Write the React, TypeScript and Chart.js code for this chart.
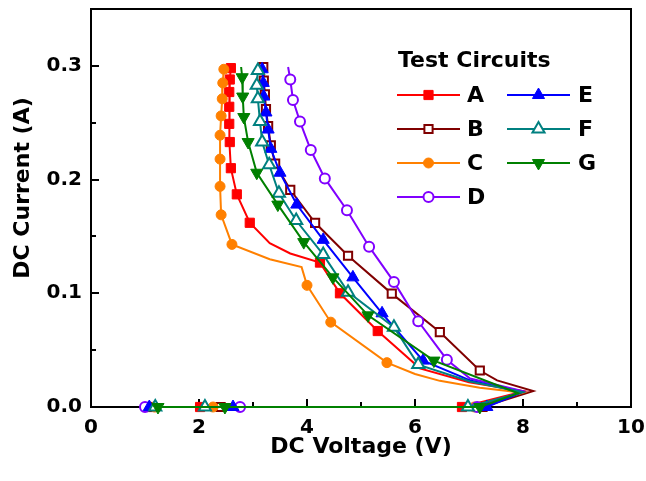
import React, { useEffect, useRef } from 'react';
import { Chart, registerables } from 'chart.js';

Chart.register(...registerables);

// ---------- data ----------
const seriesNames = ['A', 'B', 'C', 'D', 'E', 'F', 'G'];
const seriesColors = ['#ff0000', '#800000', '#ff8000', '#8000ff', '#0000ff', '#008080', '#008000'];
const seriesMarkers = ['rect', 'rect', 'circle', 'circle', 'triangle', 'triangle', 'triangle'];
const seriesFilled = [true, false, true, false, true, false, true];
const seriesRotation = [0, 0, 0, 0, 0, 0, 180];

// A
const aV = [2.59, 2.57, 2.56, 2.56, 2.56, 2.57, 2.59, 2.70, 2.94, 3.31, 3.69, 4.24, 4.61, 5.31, 6.09, 7.00, 8.02, 6.87, 2.02, 1.12];
const aI = [0.298, 0.288, 0.277, 0.264, 0.249, 0.233, 0.210, 0.187, 0.162, 0.144, 0.135, 0.127, 0.100, 0.0668, 0.034, 0.0217, 0.0139, 0, 0, 0];
const aM = [1, 1, 1, 1, 1, 1, 1, 1, 1, 0, 0, 1, 1, 1, 0, 0, 0, 1, 1, 1];
// B
const bV = [3.19, 3.20, 3.22, 3.24, 3.28, 3.33, 3.41, 3.69, 4.15, 4.76, 5.57, 6.46, 7.20, 7.52, 8.19, 7.25, 2.40, 1.10];
const bI = [0.299, 0.287, 0.275, 0.262, 0.247, 0.230, 0.214, 0.191, 0.162, 0.133, 0.0997, 0.0659, 0.0321, 0.0234, 0.0141, 0, 0, 0];
const bM = [1, 1, 1, 1, 1, 1, 1, 1, 1, 1, 1, 1, 1, 0, 0, 1, 1, 1];
// C
const cV = [2.46, 2.44, 2.43, 2.41, 2.39, 2.39, 2.39, 2.41, 2.61, 3.31, 3.90, 4.00, 4.44, 5.48, 6.00, 6.46, 7.20, 8.00, 7.10, 2.26, 1.18];
const cI = [0.297, 0.285, 0.271, 0.256, 0.239, 0.218, 0.194, 0.169, 0.143, 0.130, 0.123, 0.107, 0.0746, 0.039, 0.029, 0.023, 0.017, 0.0125, 0, 0, 0];
const cM = [1, 1, 1, 1, 1, 1, 1, 1, 1, 0, 0, 1, 1, 1, 0, 0, 0, 0, 1, 1, 1];
// D
const dV = [3.65, 3.69, 3.74, 3.87, 4.07, 4.33, 4.74, 5.15, 5.61, 6.06, 6.59, 7.02, 8.00, 7.15, 2.76, 1.00];
const dI = [0.299, 0.288, 0.270, 0.251, 0.226, 0.201, 0.173, 0.141, 0.110, 0.0754, 0.0416, 0.0251, 0.0139, 0, 0, 0];
const dM = [0, 1, 1, 1, 1, 1, 1, 1, 1, 1, 1, 0, 0, 1, 1, 1];
// E
const eV = [3.17, 3.19, 3.20, 3.24, 3.28, 3.33, 3.50, 3.81, 4.30, 4.85, 5.39, 6.15, 7.02, 7.98, 7.33, 2.63, 1.08];
const eI = [0.297, 0.285, 0.273, 0.259, 0.244, 0.227, 0.206, 0.178, 0.147, 0.114, 0.0824, 0.0408, 0.0234, 0.013, 0, 0, 0];
const eM = [1, 1, 1, 1, 1, 1, 1, 1, 1, 1, 1, 1, 0, 0, 1, 1, 1];
// F
const fV = [3.09, 3.07, 3.09, 3.13, 3.17, 3.30, 3.48, 3.80, 4.30, 4.76, 5.61, 6.06, 7.02, 8.00, 6.98, 2.11, 1.19];
const fI = [0.296, 0.283, 0.271, 0.251, 0.233, 0.213, 0.188, 0.164, 0.134, 0.101, 0.0702, 0.0373, 0.0225, 0.013, 0, 0, 0];
const fM = [1, 1, 1, 1, 1, 1, 1, 1, 1, 1, 1, 1, 0, 0, 1, 1, 1];
// G
const gV = [2.78, 2.80, 2.81, 2.83, 2.91, 3.07, 3.46, 3.94, 4.48, 5.13, 6.35, 7.91, 7.20, 2.48, 1.24];
const gI = [0.299, 0.290, 0.273, 0.255, 0.233, 0.206, 0.178, 0.145, 0.114, 0.0806, 0.0408, 0.0121, 0, 0, 0];
const gM = [0, 1, 1, 1, 1, 1, 1, 1, 1, 1, 1, 0, 1, 1, 1];

const allV = [aV, bV, cV, dV, eV, fV, gV];
const allI = [aI, bI, cI, dI, eI, fI, gI];
const allM = [aM, bM, cM, dM, eM, fM, gM];

const xTicks = [0, 2, 4, 6, 8, 10];
const xMinor = [1, 3, 5, 7, 9];
const yTicks = [0, 0.1, 0.2, 0.3];
const yMinor = [0.05, 0.15, 0.25];

const xTitle = 'DC Voltage (V)';
const yTitle = 'DC Current (A)';
const legendTitle = 'Test Circuits';

const FONT = '"DejaVu Sans", "Liberation Sans", Arial, sans-serif';

function markerRadius(i: number) {
  const m = seriesMarkers[i];
  if (m === 'rect') return seriesFilled[i] ? 6.5 : 5.8;
  if (m === 'circle') return 5;
  return 7;
}

function drawMarker(ctx: CanvasRenderingContext2D, i: number, x: number, y: number) {
  const r = markerRadius(i);
  const col = seriesColors[i];
  ctx.save();
  ctx.beginPath();
  const m = seriesMarkers[i];
  if (m === 'rect') {
    const s = Math.SQRT1_2 * r;
    ctx.rect(x - s, y - s, 2 * s, 2 * s);
  } else if (m === 'circle') {
    ctx.arc(x, y, r, 0, Math.PI * 2);
  } else {
    let rad = (seriesRotation[i] * Math.PI) / 180;
    ctx.moveTo(x + Math.sin(rad) * r, y - Math.cos(rad) * r);
    rad += (2 * Math.PI) / 3;
    ctx.lineTo(x + Math.sin(rad) * r, y - Math.cos(rad) * r);
    rad += (2 * Math.PI) / 3;
    ctx.lineTo(x + Math.sin(rad) * r, y - Math.cos(rad) * r);
    ctx.closePath();
  }
  ctx.fillStyle = seriesFilled[i] ? col : '#ffffff';
  ctx.fill();
  ctx.lineWidth = seriesFilled[i] ? 1 : 2;
  ctx.strokeStyle = col;
  ctx.stroke();
  ctx.restore();
}

const decorPlugin = {
  id: 'decor',
  beforeDatasetsDraw(chart: any) {
    const { ctx, chartArea: a, scales } = chart;
    ctx.save();
    ctx.strokeStyle = '#000';
    ctx.lineWidth = 2;
    ctx.strokeRect(a.left, a.top, a.right - a.left, a.bottom - a.top);
    ctx.beginPath();
    for (const v of xTicks) {
      if (v <= 0 || v >= 10) continue;
      const px = Math.round(scales.x.getPixelForValue(v));
      ctx.moveTo(px, a.bottom);
      ctx.lineTo(px, a.bottom - 8);
    }
    for (const v of xMinor) {
      const px = Math.round(scales.x.getPixelForValue(v));
      ctx.moveTo(px, a.bottom);
      ctx.lineTo(px, a.bottom - 5);
    }
    for (const v of yTicks) {
      if (v <= 0) continue;
      const py = Math.round(scales.y.getPixelForValue(v));
      ctx.moveTo(a.left, py);
      ctx.lineTo(a.left + 8, py);
    }
    for (const v of yMinor) {
      const py = Math.round(scales.y.getPixelForValue(v));
      ctx.moveTo(a.left, py);
      ctx.lineTo(a.left + 5, py);
    }
    ctx.stroke();
    ctx.restore();
  },
  afterDraw(chart: any) {
    const { ctx, chartArea: a } = chart;
    ctx.save();
    ctx.fillStyle = '#000';
    ctx.font = `bold 22px ${FONT}`;
    ctx.textAlign = 'center';
    ctx.textBaseline = 'middle';
    ctx.fillText(xTitle, (a.left + a.right) / 2, 447);
    ctx.save();
    ctx.translate(23, 188);
    ctx.rotate(-Math.PI / 2);
    ctx.fillText(yTitle, 0, 0);
    ctx.restore();

    // legend
    ctx.textAlign = 'left';
    ctx.fillText(legendTitle, 398, 61);
    const colLineX = [397, 507];
    const colLabelX = [467, 578];
    for (let i = 0; i < seriesNames.length; i++) {
      const col = i < 4 ? 0 : 1;
      const row = i < 4 ? i : i - 4;
      const y = 95 + row * 34;
      const x0 = colLineX[col];
      ctx.beginPath();
      ctx.strokeStyle = seriesColors[i];
      ctx.lineWidth = 2;
      ctx.moveTo(x0, y);
      ctx.lineTo(x0 + 63, y);
      ctx.stroke();
      drawMarker(ctx, i, x0 + 31.5, y);
      ctx.fillStyle = '#000';
      ctx.fillText(seriesNames[i], colLabelX[col], y + 1);
    }
    ctx.restore();
  },
};

export default function App() {
  const ref = useRef<HTMLCanvasElement>(null);
  useEffect(() => {
    document.body.style.margin = '0';
    const canvas = ref.current;
    if (!canvas) return;
    const datasets = seriesNames.map((name, i) => ({
      label: name,
      data: allV[i].map((v, j) => ({ x: v, y: allI[i][j] })),
      showLine: true,
      borderColor: seriesColors[i],
      backgroundColor: seriesFilled[i] ? seriesColors[i] : '#ffffff',
      pointBackgroundColor: seriesFilled[i] ? seriesColors[i] : '#ffffff',
      pointBorderColor: seriesColors[i],
      pointBorderWidth: seriesFilled[i] ? 1 : 2,
      pointStyle: seriesMarkers[i],
      pointRotation: seriesRotation[i],
      pointRadius: allM[i].map((m) => (m ? markerRadius(i) : 0)),
      borderWidth: 2,
      tension: 0,
      fill: false,
      clip: false,
      order: seriesNames.length - i,
    }));
    const chart = new Chart(canvas, {
      type: 'scatter',
      data: { datasets },
      options: {
        animation: false,
        responsive: false,
        maintainAspectRatio: false,
        events: [],
        layout: { padding: { top: 5, right: 15, left: 0, bottom: 0 } },
        plugins: { legend: { display: false }, tooltip: { enabled: false } },
        scales: {
          x: {
            type: 'linear',
            min: 0,
            max: 10,
            afterFit: (s: any) => {
              s.height = 74;
              s.paddingLeft = 0;
              s.paddingRight = 0;
              s.paddingTop = 0;
              s.paddingBottom = 0;
            },
            afterBuildTicks: (s: any) => { s.ticks = xTicks.map((v) => ({ value: v })); },
            ticks: {
              color: '#000',
              padding: 9,
              font: { family: FONT, weight: 'bold', size: 20 },
              callback: (v: any) => String(v),
            },
            grid: { display: false, drawTicks: false },
            border: { display: false },
          },
          y: {
            type: 'linear',
            min: 0,
            max: 0.35,
            afterFit: (s: any) => {
              s.width = 91;
              s.paddingLeft = 0;
              s.paddingRight = 0;
              s.paddingTop = 0;
              s.paddingBottom = 0;
            },
            afterBuildTicks: (s: any) => { s.ticks = yTicks.map((v) => ({ value: v })); },
            ticks: {
              color: '#000',
              padding: 9,
              font: { family: FONT, weight: 'bold', size: 20 },
              callback: (v: any) => Number(v).toFixed(1),
            },
            grid: { display: false, drawTicks: false },
            border: { display: false },
          },
        },
      },
      plugins: [decorPlugin],
    });
    return () => chart.destroy();
  }, []);
  return (
    <div style={{ width: 646, height: 481, position: 'relative' }}>
      <canvas ref={ref} width={646} height={481} style={{ display: 'block' }} />
    </div>
  );
}
